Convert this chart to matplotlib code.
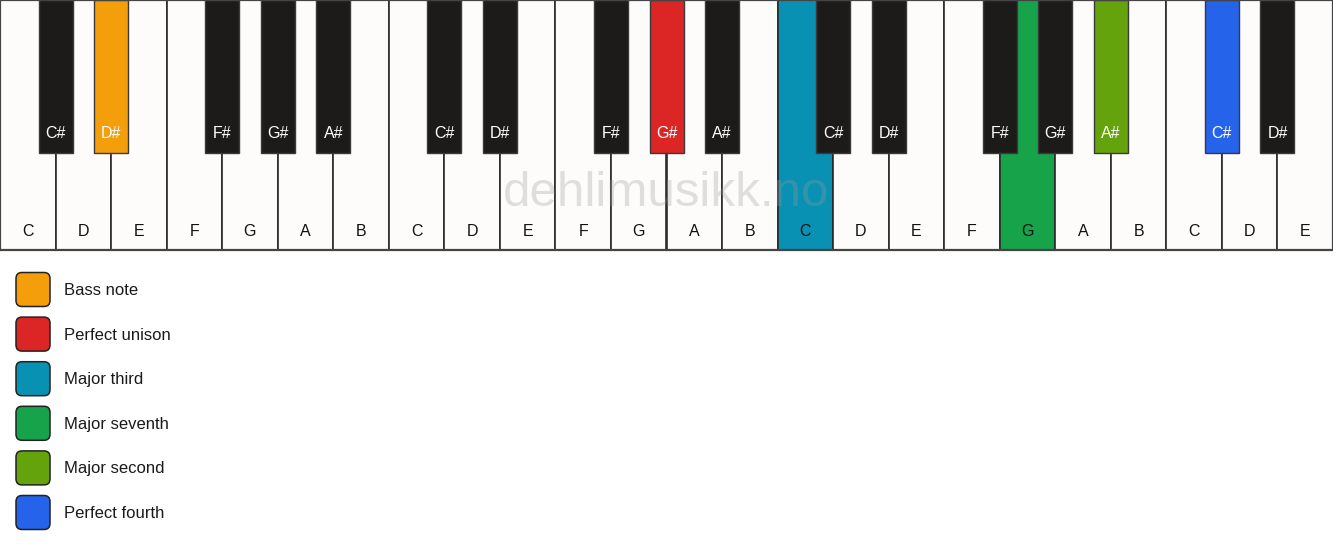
import matplotlib
matplotlib.use("Agg")
import matplotlib.pyplot as plt
from matplotlib.patches import Rectangle, FancyBboxPatch

# keyboard: 3 octaves + C D E
white_notes = ['C', 'D', 'E', 'F', 'G', 'A', 'B'] * 3 + ['C', 'D', 'E']
sharp_after = {'C': 'C#', 'D': 'D#', 'F': 'F#', 'G': 'G#', 'A': 'A#'}

# highlighted keys as (note, octave)
hl_keys = [('D#', 1), ('G#', 2), ('C', 3), ('G', 3), ('A#', 3), ('C#', 4)]
hl_names = ['Bass note', 'Perfect unison', 'Major third', 'Major seventh',
            'Major second', 'Perfect fourth']
hl_colors = ['#F59E0B', '#DC2626', '#0891B2', '#16A34A', '#65A30D', '#2563EB']

W, H = 1333, 550
kb_h = 250
bk_h = 153
ww = W / len(white_notes)
bw = 34

key_color = {k: c for k, c in zip(hl_keys, hl_colors)}

plt.rcParams['font.family'] = ['Liberation Sans', 'DejaVu Sans']
fig = plt.figure(figsize=(W / 100, H / 100), dpi=100)
ax = fig.add_axes([0, 0, 1, 1])
ax.set_xlim(0, W)
ax.set_ylim(H, 0)
ax.axis('off')

# white keys
for i, n in enumerate(white_notes):
    octv = i // 7 + 1
    fc = key_color.get((n, octv), '#FDFCFA')
    ax.add_patch(Rectangle((i * ww, 0), ww, kb_h, facecolor=fc,
                           edgecolor='#2b2b2b', lw=1.2, zorder=1))
    ax.text(i * ww + ww / 2, 231, n, ha='center', va='center',
            fontsize=11.5, color='#111111', zorder=2)

# black keys
for i, n in enumerate(white_notes[:-1]):
    if n not in sharp_after:
        continue
    octv = i // 7 + 1
    s = sharp_after[n]
    fc = key_color.get((s, octv), '#1C1B1A')
    x = (i + 1) * ww
    ax.add_patch(Rectangle((x - bw / 2, 0), bw, bk_h, facecolor=fc,
                           edgecolor='#3a3a3a', lw=1.0, zorder=3))
    ax.text(x, 134, s, ha='center', va='center', fontsize=11.5,
            color='white', zorder=4)

# outer frame
ax.add_patch(Rectangle((0, 0), W, kb_h, facecolor='none',
                       edgecolor='#444444', lw=1.6, zorder=5))

# watermark
ax.text(W / 2, 194, 'dehlimusikk.no', ha='center', va='center',
        fontsize=35.5, color='#9a9a9a', alpha=0.3, zorder=6)

# legend
for j, (name, c) in enumerate(zip(hl_names, hl_colors)):
    yc = 289.5 + j * 44.6
    ax.add_patch(FancyBboxPatch((20, yc - 13), 26, 26,
                                boxstyle='round,pad=4,rounding_size=6',
                                facecolor=c, edgecolor='#222222', lw=1.1))
    ax.text(64, yc + 1, name, ha='left', va='center', fontsize=12,
            color='#1a1a1a')

fig.savefig('out.png', dpi=100, facecolor='white')
